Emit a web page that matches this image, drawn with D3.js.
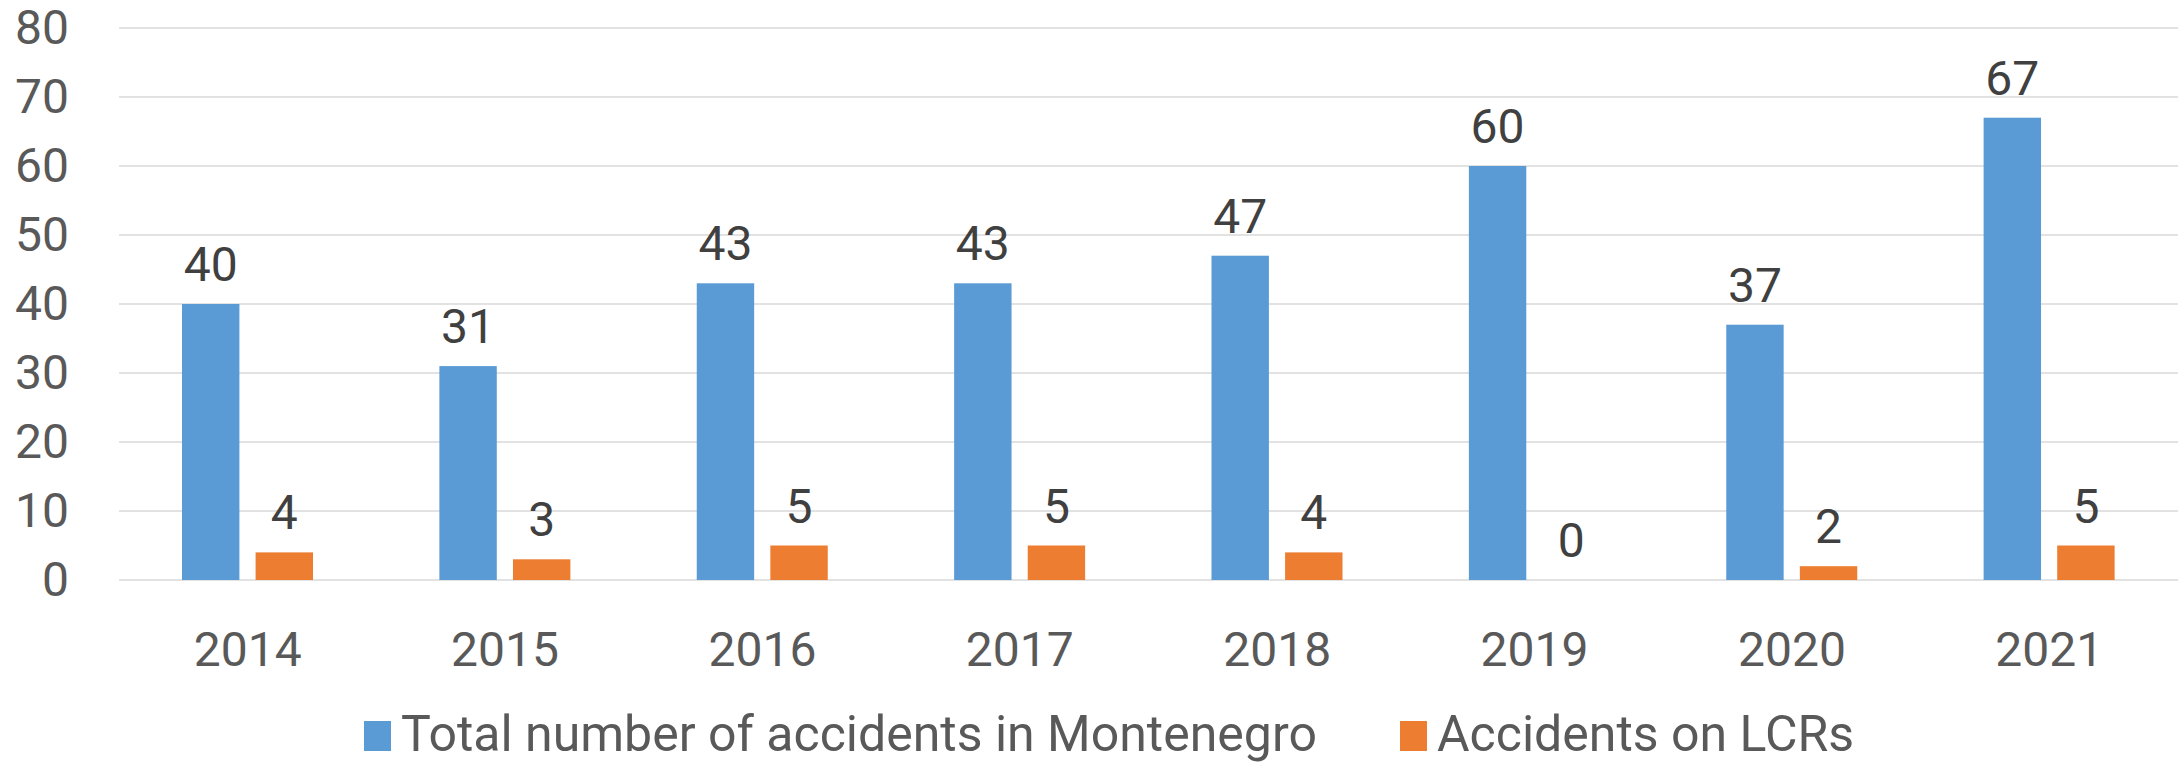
<!DOCTYPE html>
<html>
<head>
<meta charset="utf-8">
<script src="https://cdn.jsdelivr.net/npm/d3@7"></script>
<style>
  body { margin: 0; background: #fff; }
  svg { display: block; font-family: Roboto, "Noto Sans", sans-serif; }
</style>
</head>
<body>
<svg id="chart"></svg>
<script>
// data
var years = ["2014", "2015", "2016", "2017", "2018", "2019", "2020", "2021"];
var totalAccidents = [40, 31, 43, 43, 47, 60, 37, 67];
var lcrAccidents = [4, 3, 5, 5, 4, 0, 2, 5];
var seriesNames = ["Total number of accidents in Montenegro", "Accidents on LCRs"];
var seriesColors = ["#5B9BD5", "#ED7D31"];
var yTicks = [0, 10, 20, 30, 40, 50, 60, 70, 80];

var svgWidth = 2178, svgHeight = 763;
// plot area edges (window.top is taken, so plotTop)
var plotLeft = 119, plotRight = 2178, plotTop = 28, plotBottom = 580;

var svg = d3.select("#chart")
    .attr("width", svgWidth)
    .attr("height", svgHeight);

// scales
var x = d3.scaleBand()
    .domain(years)
    .range([plotLeft, plotRight]);

var x1 = d3.scaleBand()
    .domain(seriesNames)
    .range([63, 194])
    .paddingInner(0.22);

var y = d3.scaleLinear()
    .domain([0, 80])
    .range([plotBottom, plotTop]);

// gridlines
svg.append("g")
    .selectAll("line")
    .data(yTicks)
    .join("line")
    .attr("x1", plotLeft)
    .attr("x2", plotRight)
    .attr("y1", d => y(d))
    .attr("y2", d => y(d))
    .attr("stroke", "#d9d9d9")
    .attr("stroke-width", 1.6);

// y axis, domain and ticks removed so just the labels are left
var yAxis = svg.append("g")
    .attr("transform", "translate(" + plotLeft + ",0)")
    .call(d3.axisLeft(y).tickValues(yTicks).tickSize(0).tickPadding(50));
yAxis.select(".domain").remove();
yAxis.selectAll("text")
    .attr("fill", "#595959")
    .attr("font-size", 48)
    .attr("font-family", "Roboto, sans-serif");

// x axis labels
var xAxis = svg.append("g")
    .attr("transform", "translate(0," + plotBottom + ")")
    .call(d3.axisBottom(x).tickSize(0).tickPadding(52));
xAxis.select(".domain").remove();
xAxis.selectAll("text")
    .attr("fill", "#595959")
    .attr("font-size", 48)
    .attr("font-family", "Roboto, sans-serif");

// build rows for the groups
var rows = years.map((yr, i) => ({
  year: yr,
  values: [
    {name: seriesNames[0], value: totalAccidents[i], color: seriesColors[0]},
    {name: seriesNames[1], value: lcrAccidents[i], color: seriesColors[1]}
  ]
}));

var groups = svg.append("g")
    .selectAll("g")
    .data(rows)
    .join("g")
    .attr("transform", d => "translate(" + x(d.year) + ",0)");

groups.selectAll("rect")
    .data(d => d.values)
    .join("rect")
    .attr("x", d => x1(d.name))
    .attr("width", x1.bandwidth())
    .attr("y", d => y(d.value))
    .attr("height", d => plotBottom - y(d.value))
    .attr("fill", d => d.color);

// value labels over bars
groups.selectAll("text")
    .data(d => d.values)
    .join("text")
    .attr("x", d => x1(d.name) + x1.bandwidth() / 2)
    .attr("y", d => y(d.value) - 23)
    .attr("text-anchor", "middle")
    .attr("fill", "#404040")
    .attr("font-size", 48)
    .text(d => d.value);

// legend - nudged up a touch so the descenders stay inside
var legendX = [364, 1400];
var legend = svg.append("g")
    .selectAll("g")
    .data(seriesNames)
    .join("g")
    .attr("transform", (d, i) => "translate(" + legendX[i] + ",721)");

legend.append("rect")
    .attr("width", 27)
    .attr("height", 30)
    .attr("fill", (d, i) => seriesColors[i]);

legend.append("text")
    .attr("x", 37)
    .attr("y", 30)
    .attr("fill", "#595959")
    .attr("font-size", 50)
    .text(d => d);
</script>
</body>
</html>
